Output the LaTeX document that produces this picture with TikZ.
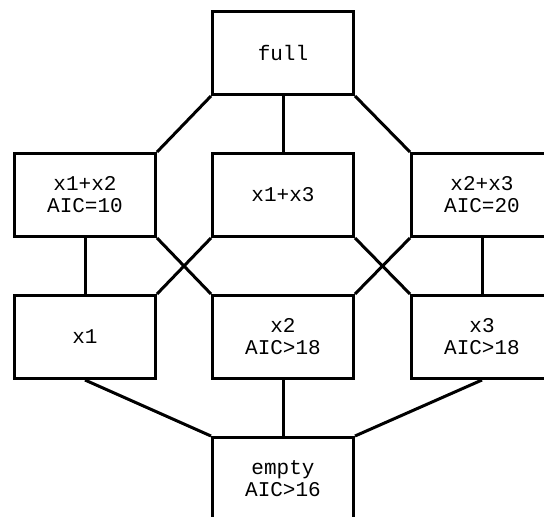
\documentclass[tikz,border=0pt]{standalone}
\usepackage{fontspec}
\setmonofont{Liberation Mono}
\usetikzlibrary{positioning}
\tikzset{model/.style={draw, line width=3pt, minimum width=141pt, minimum height=83pt,
    inner sep=0pt, align=center, font=\ttfamily\fontsize{21}{22}\selectfont}}

\begin{document}
\begin{tikzpicture}[x=1pt, y=-1pt, line width=3pt]
  \useasboundingbox (0,0) rectangle (544,517);

  \node[model] (full) at (283,53) {full};

  \node[model] (x12) at (85,195) {x1+x2\\AIC=10};
  \node[model] (x13) at (283,195) {x1+x3};
  \node[model] (x23) at (482,195) {x2+x3\\AIC=20};

  \node[model] (x1) at (85,337) {x1};
  \node[model] (x2) at (283,337) {x2\\AIC>18};
  \node[model] (x3) at (482,337) {x3\\AIC>18};

  \node[model] (empty) at (283,479) {empty\\AIC>16};

  % full model down to pairs
  \draw (full.south west) -- (x12.north east);
  \draw (full.south) -- (x13.north);
  \draw (full.south east) -- (x23.north west);

  % pairs down to singles
  \draw (x12.south) -- (x1.north);
  \draw (x12.south east) -- (x2.north west);
  \draw (x13.south west) -- (x1.north east);
  \draw (x13.south east) -- (x3.north west);
  \draw (x23.south west) -- (x2.north east);
  \draw (x23.south) -- (x3.north);

  % singles down to empty
  \draw (x1.south) -- (empty.north west);
  \draw (x2.south) -- (empty.north);
  \draw (x3.south) -- (empty.north east);
\end{tikzpicture}
\end{document}
